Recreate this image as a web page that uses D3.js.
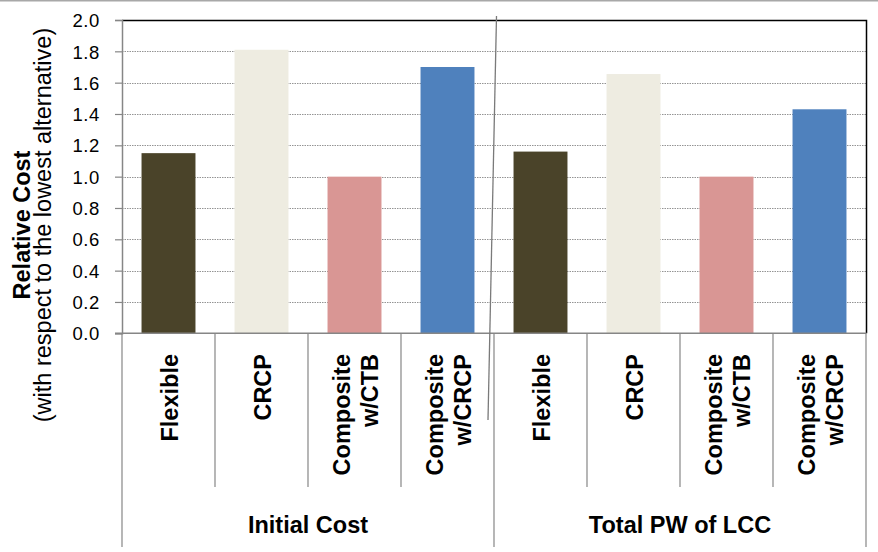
<!DOCTYPE html>
<html>
<head>
<meta charset="utf-8">
<script src="https://cdn.jsdelivr.net/npm/d3@7"></script>
<style>
  html, body { margin: 0; padding: 0; background: #fff; }
  svg { display: block; }
  text { font-family: Arial, "Liberation Sans", sans-serif; fill: #000; }
</style>
</head>
<body>
<svg id="chart" width="878" height="552"></svg>
<script>
// ---- data ----
const groups = ["Initial Cost", "Total PW of LCC"];
const categories = ["Flexible", "CRCP", "Composite w/CTB", "Composite w/CRCP"];
const categoryLines = [["Flexible"], ["CRCP"], ["Composite", "w/CTB"], ["Composite", "w/CRCP"]];
const initialCost = [1.15, 1.81, 1.00, 1.70];
const totalPWofLCC = [1.16, 1.655, 1.00, 1.43];
const yTicks = [0, 0.2, 0.4, 0.6, 0.8, 1.0, 1.2, 1.4, 1.6, 1.8, 2.0];
const colors = ["#4a4329", "#eeece1", "#d99694", "#4f81bd"];
const yTitle = "Relative Cost";
const ySubTitle = "(with respect to the lowest alternative)";

const seriesByGroup = [initialCost, totalPWofLCC];
const rows = [];
groups.forEach((g, gi) => categories.forEach((c, ci) => {
  rows.push({ key: g + "|" + c, group: g, gi, cat: c, ci, value: seriesByGroup[gi][ci] });
}));

// ---- layout ----
const pL = 122, pR = 866, pT = 20, pB = 333.3;
const svg = d3.select("#chart");

// top gray strip (from reference)
svg.append("line").attr("x1", 0).attr("x2", 878).attr("y1", 0.5).attr("y2", 0.5)
  .attr("stroke", "#a8a8a8").attr("stroke-width", 2);

const x = d3.scaleBand().domain(rows.map(d => d.key)).range([pL, pR])
  .paddingInner(0.42).paddingOuter(0.21);
const slot = (pR - pL) / rows.length;
const y = d3.scaleLinear().domain([0, 2]).range([pB, pT]);

// gridlines
svg.append("g").selectAll("line").data(yTicks.filter(t => t > 0 && t < 2)).join("line")
  .attr("x1", pL).attr("x2", pR)
  .attr("y1", d => Math.round(y(d)) + 0.5).attr("y2", d => Math.round(y(d)) + 0.5)
  .attr("stroke", "#949494").attr("stroke-width", 1).attr("stroke-dasharray", "1.5,1");

// bars
svg.append("g").selectAll("rect").data(rows).join("rect")
  .attr("x", d => x(d.key)).attr("width", x.bandwidth())
  .attr("y", d => y(d.value)).attr("height", d => y(0) - y(d.value))
  .attr("fill", d => colors[d.ci]);

// top and right border (black)
svg.append("path")
  .attr("d", `M${pL},${pT + 0.5}H${pR + 0.5}V${pB}`)
  .attr("fill", "none").attr("stroke", "#000").attr("stroke-width", 1.5);

// y axis
const yAxis = d3.axisLeft(y).tickValues(yTicks).tickSize(7).tickPadding(0)
  .tickFormat(d3.format(".1f"));
const ya = svg.append("g").attr("transform", `translate(${pL},0)`).call(yAxis);
ya.select(".domain").attr("stroke", "#868686").attr("stroke-width", 1.5);
ya.selectAll(".tick line").attr("stroke", "#868686").attr("stroke-width", 1.2);
ya.selectAll(".tick text")
  .attr("x", -22).attr("dy", "0.36em")
  .style("font-size", "18.5px").style("letter-spacing", "0.6px")
  .style("font-family", "Arial, 'Liberation Sans', sans-serif").attr("fill", "#000");

// x axis baseline
svg.append("line").attr("x1", pL - 7).attr("x2", pR + 0.5)
  .attr("y1", pB).attr("y2", pB)
  .attr("stroke", "#868686").attr("stroke-width", 1.5);

// category dividers
const catDiv = d3.range(1, rows.length).filter(i => i % categories.length !== 0).map(i => pL + i * slot);
svg.append("g").selectAll("line").data(catDiv).join("line")
  .attr("x1", d => d).attr("x2", d => d).attr("y1", pB).attr("y2", 487)
  .attr("stroke", "#868686").attr("stroke-width", 1.2);
// group dividers
const grpDiv = d3.range(0, groups.length + 1).map(i => pL + i * categories.length * slot);
svg.append("g").selectAll("line").data(grpDiv).join("line")
  .attr("x1", d => d).attr("x2", d => d).attr("y1", pB).attr("y2", 547)
  .attr("stroke", "#868686").attr("stroke-width", 1.2);

// category labels
const catG = svg.append("g");
rows.forEach(d => {
  const cx = x(d.key) + x.bandwidth() / 2;
  const lines = categoryLines[d.ci];
  lines.forEach((ln, li) => {
    const bx = cx + 9.5 + (li - (lines.length - 1) / 2) * 28;
    catG.append("text")
      .attr("transform", `translate(${bx},354) rotate(-90)`)
      .attr("text-anchor", "end")
      .style("font-size", "23.5px").style("font-weight", "bold")
      .text(ln);
  });
});

// group labels
svg.append("g").selectAll("text").data(groups).join("text")
  .attr("x", (d, i) => (grpDiv[i] + grpDiv[i + 1]) / 2)
  .attr("y", 532.5)
  .attr("text-anchor", "middle")
  .style("font-size", "23.5px").style("font-weight", "bold")
  .text(d => d);

// slanted separator line between groups (from reference)
svg.append("line").attr("x1", 496.5).attr("y1", 16).attr("x2", 488).attr("y2", 420)
  .attr("stroke", "#7a7a7a").attr("stroke-width", 1.3);

// y titles
const yMid = 225;
svg.append("text")
  .attr("transform", `translate(30,${yMid}) rotate(-90)`)
  .attr("text-anchor", "middle")
  .style("font-size", "23.5px").style("font-weight", "bold")
  .text(yTitle);
svg.append("text")
  .attr("transform", `translate(51,${yMid}) rotate(-90)`)
  .attr("text-anchor", "middle")
  .style("font-size", "23.5px")
  .text(ySubTitle);
</script>
</body>
</html>
